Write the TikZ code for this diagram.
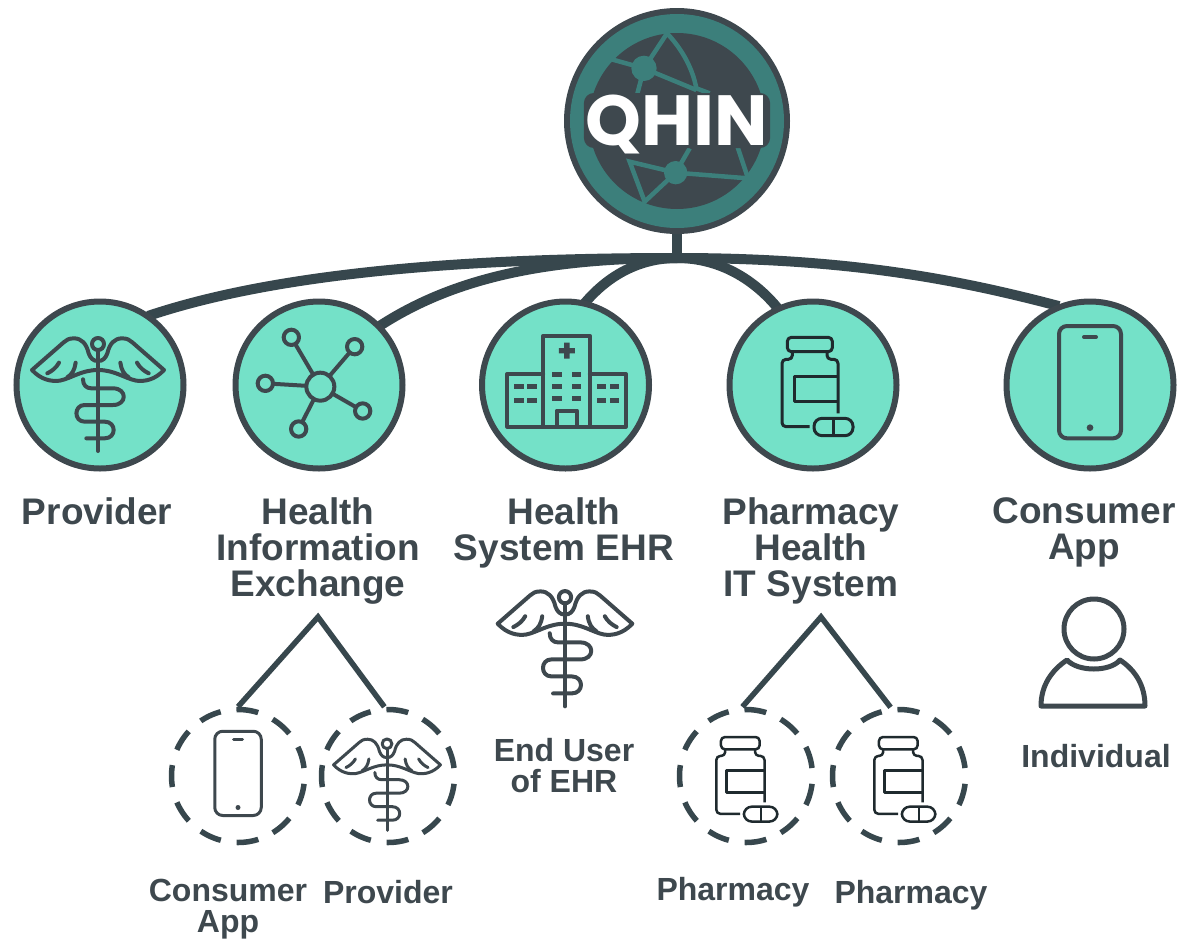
\documentclass[tikz,border=0pt]{standalone}
\usepackage{fontspec}
\setmainfont{Liberation Sans}
\newfontfamily\qhinfont{Poppins}
\usetikzlibrary{backgrounds, positioning}
\definecolor{mint}{HTML}{74E1C8}
\definecolor{slate}{HTML}{3E484E}
\definecolor{linkgray}{HTML}{37474D}
\definecolor{teal}{HTML}{3C7F7B}
\definecolor{inkdark}{HTML}{1F2A2E}
\tikzset{
    iconline/.style={draw=slate, line width=4pt, line cap=round, line join=round},
    bottleline/.style={draw=inkdark, line width=3pt, line join=round},
    smallicon/.style={iconline/.append style={line width=3pt}, bottleline/.append style={line width=2.5pt}},
    servicecircle/.style={circle, draw=slate, fill=mint, line width=6pt, minimum size=167pt, inner sep=0pt},
    dashcircle/.style={circle, draw=linkgray, line width=5.5pt, dash pattern=on 22pt off 16pt, dash phase=30pt, minimum size=133pt, inner sep=0pt},
    biglabel/.style={text=slate, align=center, anchor=north, font=\fontsize{37}{36}\selectfont\bfseries},
    smalllabel/.style={text=slate, align=center, anchor=north, font=\fontsize{32}{31}\selectfont\bfseries},
    caduceus/.pic={
        \begin{scope}[scale=1/3]
            \foreach \s in {-1,1} {
                \begin{scope}[xscale=\s]
                    \draw[iconline] (0,-72) .. controls (15,-72) and (22,-80) .. (28,-95) .. controls (35,-125) and (50,-140) .. (72,-140) .. controls (88,-140) and (95,-135) .. (103,-128) -- (198,-45) .. controls (170,-15) and (140,-10) .. (115,-13) .. controls (80,-20) and (50,-45) .. (0,-45);
                    \draw[iconline] (67,-67) .. controls (70,-45) and (78,-32) .. (92,-23);
                    \draw[iconline] (117,-67) .. controls (125,-52) and (138,-42) .. (152,-35);
                \end{scope}
            }
            \draw[iconline] (0,-123) circle (18);
            \draw[iconline] (0,-105) -- (0,198);
            \draw[iconline] (-45,-17) .. controls (-45,0) and (-35,10) .. (-20,10) -- (45,10) .. controls (88,10) and (88,60) .. (45,60) -- (-40,60) .. controls (-73,60) and (-73,110) .. (-40,110) -- (20,110) .. controls (56,110) and (56,160) .. (20,160) -- (-35,160);
        \end{scope}
    },
    exchange/.pic={
        \begin{scope}[scale=1/3, shift={(-956,-285)}]
            \foreach \a/\b in {873/142, 1063/170, 795/280, 1087/363, 895/417} {
                \draw[iconline] (960,290) -- (\a,\b);
                \draw[iconline, fill=mint] (\a,\b) circle (23);
            }
            \draw[iconline, fill=mint] (960,290) circle (42);
        \end{scope}
    },
    hospital/.pic={
        \begin{scope}[scale=1/3, shift={(-287,-285)}]
            \draw[iconline] (220,137) rectangle (360,410);
            \draw[iconline] (220,252) -- (112,252) -- (112,410) -- (468,410) -- (468,252) -- (360,252);
            \draw[iconline] (260,410) -- (260,362) -- (322,362) -- (322,410);
            \fill[slate] (283,158) rectangle (299,206) (267,174) rectangle (315,190);
            \foreach \a in {247,305} {
                \foreach \b in {246,282,318} {
                    \fill[slate] (\a,\b) rectangle ++(28,14);
                }
            }
            \foreach \a in {133,172,380,420} {
                \foreach \b in {282,324} {
                    \fill[slate] (\a,\b) rectangle ++(28,14);
                }
            }
        \end{scope}
    },
    bottle/.pic={
        \begin{scope}[scale=1/3, shift={(-1030,-285)}]
            \draw[bottleline, rounded corners=4pt] (953,142) rectangle (1088,185);
            \draw[bottleline, rounded corners=4pt] (1020,410) -- (937,410) -- (937,208) -- (968,208) -- (968,185);
            \draw[bottleline, rounded corners=4pt] (1072,185) -- (1072,208) -- (1105,208) -- (1105,370);
            \draw[bottleline] (1105,258) -- (973,258) -- (973,335) -- (1105,335);
            \draw[bottleline, rounded corners=8pt] (1033,385) rectangle (1150,437);
            \draw[bottleline] (1092,385) -- (1092,437);
        \end{scope}
    },
    phone/.pic={
        \begin{scope}[scale=1/3, shift={(-270,-225)}]
            \draw[iconline, rounded corners=8pt] (177,48) rectangle (363,385);
            \draw[iconline] (252,81) -- (288,81);
            \fill[slate] (270,353) circle (10);
        \end{scope}
    },
}
\begin{document}
\begin{tikzpicture}[x=1pt,y=-1pt]
    \useasboundingbox (0,0) rectangle (1178,940);

    % top circle
    \node[circle, fill=slate, minimum size=226pt, inner sep=0pt] (qhin) at (677,121) {};
    \fill[teal] (qhin.center) circle (107);
    \fill[slate] (qhin.center) circle (88);
    \begin{scope}[shift={(677,121)}, scale=1/3, shift={(-382,-363)}, teal, line width=4.5pt]
        \fill (283,205) circle (38);
        \fill (378,518) circle (35);
        \draw (175,175) -- (283,205) -- (352,100) .. controls (400,150) and (430,210) .. (440,265) -- (480,280);
        \draw (283,205) -- (258,300);
        \draw (283,205) -- (440,270);
        \draw (420,445) -- (378,518) -- (240,485) -- (285,605) -- (378,518) -- (595,535) -- (560,430);
    \end{scope}
    \node[fill=slate, rounded corners=10pt, text=white, inner sep=2pt, text height=50pt, text depth=1pt, font=\qhinfont\fontsize{71}{71}\selectfont\bfseries] (qhinlabel) at (677,120.5) {QHIN};

    % second row
    \node[servicecircle] (provider) at (100,385) {};
    \node[servicecircle] (hie) at (319,385) {};
    \node[servicecircle] (ehr) at (565.5,385) {};
    \node[servicecircle] (pharmacy) at (813,385) {};
    \node[servicecircle] (consumer) at (1090,385) {};
    \pic at (98,385) {caduceus};
    \pic at (hie) {exchange};
    \pic at (ehr) {hospital};
    \pic at (pharmacy) {bottle};
    \pic at (consumer) {phone};

    \coordinate (hub) at (677,258);
    \begin{scope}[on background layer]
        \draw[linkgray, line width=10pt] (qhin.south) -- (hub);
        \draw[linkgray, line width=10pt, shorten >=-3pt] (hub) .. controls (450,258) and (270,275) .. (provider.54);
        \draw[linkgray, line width=10pt, shorten >=-3pt] (hub) .. controls (540,258) and (450,280) .. (hie.44);
        \draw[linkgray, line width=10pt, shorten >=-3pt] (hub) .. controls (630,258) and (600,285) .. (ehr.76);
        \draw[linkgray, line width=10pt, shorten >=-3pt] (hub) .. controls (720,258) and (755,280) .. (pharmacy.115);
        \draw[linkgray, line width=10pt, shorten >=-3pt] (hub) .. controls (850,258) and (960,280) .. (consumer.113);
    \end{scope}

    % labels
    \node[biglabel] (providerlabel) at (97,494) {Provider};
    \node[biglabel] (hielabel) at (318,494) {Health\\Information\\Exchange};
    \node[biglabel] (ehrlabel) at (564,494) {Health\\System EHR};
    \node[biglabel] (pharmacylabel) at (811,494) {Pharmacy\\Health\\IT System};
    \node[biglabel] (consumerlabel) at (1084,494) {Consumer\\App};

    % third row
    \coordinate (hiesplit) at (318,617);
    \coordinate (pharmacysplit) at (821,617);
    \node[dashcircle] (subconsumer) at (238,776) {};
    \node[dashcircle] (subprovider) at (388,776) {};
    \node[dashcircle] (subpharmacya) at (746,776) {};
    \node[dashcircle] (subpharmacyb) at (899,776) {};
    \draw[linkgray, line width=5.5pt] (subconsumer.north) -- (hiesplit) -- (subprovider.93);
    \draw[linkgray, line width=5.5pt] (subpharmacya.93) -- (pharmacysplit) -- (subpharmacyb.97);
    \pic[scale=.75, smallicon] at (238,775.5) {phone};
    \pic[scale=.81, smallicon] at (387,777) {caduceus};
    \pic[scale=.86, smallicon] at (743,778) {bottle};
    \pic[scale=.86, smallicon] at (901,778) {bottle};
    \pic[scale=1.02] at (565,639) {caduceus};

    % person
    \draw[iconline, line width=5pt] (1094,629) circle (30);
    \draw[iconline, line width=5pt] (1041,706) .. controls (1041,685) and (1052,670) .. (1067,660) .. controls (1078,672) and (1110,672) .. (1120,660) .. controls (1135,670) and (1145,685) .. (1145,706) -- cycle;

    \node[smalllabel] (enduserlabel) at (564,735) {End User\\of EHR};
    \node[smalllabel] (individuallabel) at (1096,741) {Individual};
    \node[smalllabel] (subconsumerlabel) at (228,876) {Consumer\\App};
    \node[smalllabel] (subproviderlabel) at (388,877) {Provider};
    \node[smalllabel] (subpharmacyalabel) at (733,874) {Pharmacy};
    \node[smalllabel] (subpharmacyblabel) at (911,877) {Pharmacy};
\end{tikzpicture}
\end{document}
